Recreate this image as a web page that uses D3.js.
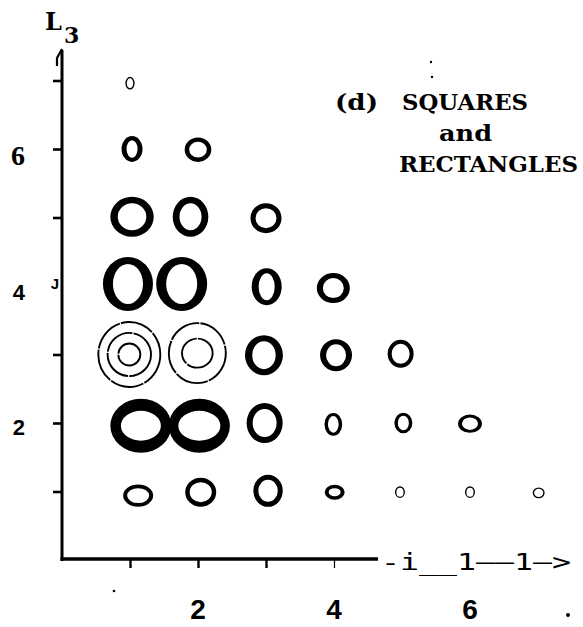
<!DOCTYPE html>
<html>
<head>
<meta charset="utf-8">
<script src="https://cdn.jsdelivr.net/npm/d3@7"></script>
<style>
  html, body { margin: 0; padding: 0; background: #fff; }
  svg { display: block; }
</style>
</head>
<body>
<script>
// Ring positions on the (L2, L3) grid, in axis units
const ringL2 = [1.00, 1.03, 2.00, 1.03, 1.89, 3.00, 0.97, 1.76, 3.01, 3.99, 2.97, 4.03, 4.98,
                1.16, 2.02, 2.98, 3.99, 5.02, 6.00, 1.12, 2.04, 3.03, 4.01, 4.97, 6.00, 7.01];
const ringL3 = [6.96, 6.00, 5.99, 5.01, 5.01, 4.99, 4.03, 4.03, 3.99, 3.97, 2.99, 2.99, 3.01,
                1.96, 1.96, 2.00, 1.98, 2.00, 1.99, 0.94, 0.99, 1.01, 0.99, 0.99, 0.99, 0.98];
// Outer and inner semi-axes of each ring, in hundredths of an axis unit
const outerRx = [6.8, 15.4, 19.6, 31.9, 26.2, 22.8, 36.8, 37.5, 22.1, 24.3, 27.9, 23.5, 19.1,
                 44.9, 44.9, 26.5, 13.0, 13.2, 17.6, 22.1, 22.8, 21.6, 14.7, 7.4, 7.4, 8.8];
const outerRy = [9.3, 18.8, 17.8, 29.2, 29.2, 21.9, 39.4, 39.4, 27.0, 21.9, 29.2, 23.4, 20.4,
                 39.4, 39.4, 29.2, 16.6, 15.1, 13.4, 16.1, 21.2, 23.4, 10.9, 8.5, 8.5, 8.0];
const innerRx = [4.7, 8.1, 12.9, 21.0, 16.2, 15.4, 22.1, 22.8, 11.8, 15.4, 17.2, 14.7, 13.2,
                 29.4, 30.9, 17.6, 7.9, 8.1, 11.8, 16.2, 16.2, 14.3, 8.8, 5.3, 5.3, 6.8];
const innerRy = [7.3, 12.8, 11.5, 19.7, 19.7, 14.6, 29.2, 29.2, 19.7, 14.6, 20.4, 16.1, 14.6,
                 21.9, 21.9, 20.4, 12.2, 10.7, 9.1, 10.9, 14.6, 16.1, 5.8, 6.6, 6.6, 6.0];

// Concentric thin-line targets
const targetL2 = [0.99, 1.99];
const targetL3 = [3.00, 3.02];
const targetRx = [[45.6, 31.9, 16.2], [41.9, 22.5]];
const targetRy = [[47.4, 31.5, 16.0], [43.8, 21.2]];

// Axis ticks and labels
const yTicks = [1, 2, 3, 5, 6, 7];
const yLabelValues = [2, 4, 6];
const yLabelText = ["2", "4", "6"];
const xTicks = [1, 2, 3, 4];
const xLabelValues = [2, 4, 6];
const xLabelText = ["2", "4", "6"];
const titleLines = ["SQUARES", "and", "RECTANGLES"];

const W = 583, H = 627;
const svg = d3.select("body").append("svg").attr("width", W).attr("height", H);
svg.append("rect").attr("width", W).attr("height", H).attr("fill", "#fff");

const x = d3.scaleLinear().domain([0, 7]).range([62, 538]);
const y = d3.scaleLinear().domain([0, 7]).range([560, 80.5]);
const sx = d3.scaleLinear().domain([0, 100]).range([0, x(1) - x(0)]);
const sy = d3.scaleLinear().domain([0, 100]).range([0, y(0) - y(1)]);

const slab = "'DejaVu Serif', 'Liberation Serif', serif";
const sans = "'Liberation Sans', Arial, sans-serif";
const mono = "'DejaVu Sans Mono', monospace";

function ellipsePath(cx, cy, rx, ry) {
  return `M${cx - rx},${cy}a${rx},${ry} 0 1,0 ${2 * rx},0a${rx},${ry} 0 1,0 ${-2 * rx},0Z`;
}

// ---- rings ----
const rings = ringL2.map((l2, i) => ({
  l2, l3: ringL3[i], orx: outerRx[i], ory: outerRy[i], irx: innerRx[i], iry: innerRy[i]
}));
svg.append("g").selectAll("path").data(rings).join("path")
  .attr("d", d => ellipsePath(x(d.l2), y(d.l3), sx(d.orx), sy(d.ory)) +
                  ellipsePath(x(d.l2), y(d.l3), sx(d.irx), sy(d.iry)))
  .attr("fill", "#000")
  .attr("fill-rule", "evenodd");

// ---- targets ----
const targetRings = [];
targetL2.forEach((l2, i) => {
  targetRx[i].forEach((rx, j) => targetRings.push({ l2, l3: targetL3[i], rx, ry: targetRy[i][j] }));
});
svg.append("g").selectAll("ellipse").data(targetRings).join("ellipse")
  .attr("cx", d => x(d.l2)).attr("cy", d => y(d.l3))
  .attr("rx", d => sx(d.rx)).attr("ry", d => sy(d.ry))
  .attr("fill", "none").attr("stroke", "#000").attr("stroke-width", 1.9)
  .attr("stroke-dasharray", "34 1.2");

// ---- y axis ----
const gy = svg.append("g").attr("transform", `translate(${x(0)},0)`)
  .call(d3.axisLeft(y).tickValues(yTicks).tickSize(9).tickFormat(""));
gy.select(".domain").remove();
gy.selectAll(".tick line").attr("stroke", "#000").attr("stroke-width", 2.6);

const yLabelShift = { 2: 12, 4: 14, 6: 16 };
svg.append("g").selectAll("text").data(yLabelValues).join("text")
  .attr("x", 25).attr("y", d => y(d) + yLabelShift[d])
  .attr("text-anchor", "end")
  .style("font-family", d => d === 6 ? "'Liberation Serif', serif" : sans)
  .style("font-weight", "bold")
  .style("font-size", d => d === 6 ? "28px" : "22px")
  .text((d, i) => yLabelText[i]);

svg.append("line").attr("x1", x(0)).attr("x2", x(0)).attr("y1", 50).attr("y2", 561)
  .attr("stroke", "#000").attr("stroke-width", 3);
svg.append("path").attr("d", `M${x(0)},49 L57,58 L57,66`)
  .attr("fill", "none").attr("stroke", "#000").attr("stroke-width", 2.2);
// the tick at L3 = 4 is typed as a "J"
svg.append("text").attr("x", 55).attr("y", y(4) + 3).attr("text-anchor", "middle")
  .style("font-family", sans).style("font-weight", "bold")
  .style("font-size", "15px").text("J");

// ---- x axis ----
const gx = svg.append("g").attr("transform", `translate(0,${y(0) - 1})`)
  .call(d3.axisBottom(x).tickValues(xTicks).tickSize(9).tickFormat(""));
gx.select(".domain").remove();
gx.selectAll(".tick line").attr("stroke", "#000")
  .attr("stroke-width", d => d === 4 ? 1.2 : 2.4);

svg.append("line").attr("x1", x(0) - 1.5).attr("x2", 378).attr("y1", y(0) - 1).attr("y2", y(0) - 1)
  .attr("stroke", "#000").attr("stroke-width", 3.5);
svg.append("text").attr("x", 381).attr("y", 570)
  .attr("textLength", 190).attr("lengthAdjust", "spacingAndGlyphs")
  .style("font-family", mono)
  .style("font-size", "23px").text("-i__1\u2014\u20141\u2014>");

svg.append("g").selectAll("text").data(xLabelValues).join("text")
  .attr("x", d => x(d)).attr("y", 619).attr("text-anchor", "middle")
  .style("font-family", sans).style("font-weight", "bold")
  .style("font-size", "28px")
  .text((d, i) => xLabelText[i]);

// ---- axis title L3 ----
svg.append("text").attr("x", 45).attr("y", 30)
  .style("font-family", slab).style("font-weight", "bold").style("font-size", "24px").text("L");
svg.append("text").attr("x", 64).attr("y", 43)
  .style("font-family", slab).style("font-weight", "bold").style("font-size", "22px").text("3");

// ---- panel title ----
svg.append("text").attr("x", 335).attr("y", 110).attr("textLength", 43)
  .attr("lengthAdjust", "spacingAndGlyphs")
  .style("font-family", slab).style("font-weight", "bold").style("font-size", "23px").text("(d)");
const titlePos = [[402, 110, 126], [439, 141, 53], [399, 171.5, 179]];
svg.append("g").selectAll("text").data(titleLines).join("text")
  .attr("x", (d, i) => titlePos[i][0]).attr("y", (d, i) => titlePos[i][1])
  .attr("textLength", (d, i) => titlePos[i][2]).attr("lengthAdjust", "spacingAndGlyphs")
  .style("font-family", slab).style("font-weight", "bold").style("font-size", "22px")
  .text(d => d);

// stray typewriter dots
svg.append("g").selectAll("circle").data([[431, 62, 1.2], [432, 77, 1.2], [114, 591, 1.3], [568, 615, 2]])
  .join("circle").attr("cx", d => d[0]).attr("cy", d => d[1]).attr("r", d => d[2]).attr("fill", "#000");
</script>
</body>
</html>
